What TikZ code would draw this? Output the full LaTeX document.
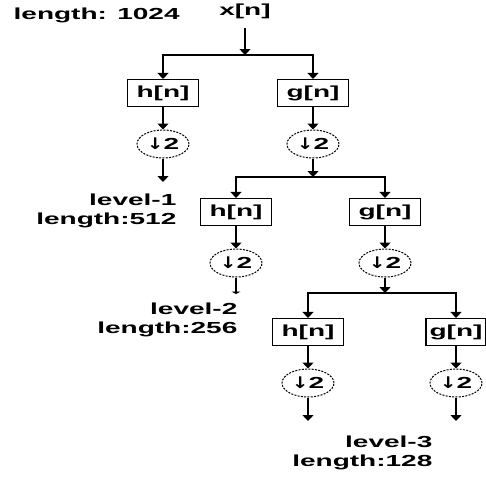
\documentclass[tikz,border=0pt]{standalone}
\usepackage{fontspec}
\setmainfont{Liberation Sans}[FakeStretch=1.75]
\newfontfamily\arrowfont{DejaVu Sans}[FakeStretch=1.25]
\usetikzlibrary{arrows.meta,shapes.geometric,positioning}

\newcommand{\downtwo}{{\arrowfont\bfseries ↓}2}

\begin{document}
\begin{tikzpicture} [>={Triangle[width=11pt,length=6pt]},line width=1.3pt,
    font=\bfseries\fontsize{16}{19}\selectfont]
    \tikzset {
      node distance=51pt, on grid,
      filterbox/.style={rectangle,draw,line width=1.1pt,minimum width=71pt,minimum height=27pt,inner sep=0pt},
      downsamp/.style={ellipse,draw,line width=1pt,dash pattern=on 2pt off 1.3pt,minimum width=52pt,minimum height=28pt,inner sep=0pt},
      lbl/.style={align=right,anchor=north east,inner sep=0pt}
    }
    \useasboundingbox (0,0) rectangle (486pt,-477pt);
    % input
    \node [anchor=north west, inner sep=0pt] (len) at (13pt,-7pt) {length: 1024};
    \node [inner ysep=9pt] (xn) at (245pt,-11pt) {x[n]};
    \coordinate (j0) at (245pt,-55pt);
    % level 1
    \node [filterbox] (h1) at (163pt,-93pt) {h[n]};
    \node [filterbox, right=150pt of h1] (g1) {g[n]};
    \node [downsamp, below=of h1] (d1h) {\downtwo};
    \node [downsamp, below=of g1] (d1g) {\downtwo};
    \coordinate [below=38pt of d1h] (e1);
    \coordinate [below=33pt of d1g] (j1);
    % level 2
    \node [filterbox, below left=119pt and 77pt of g1] (h2) {h[n]};
    \node [filterbox, right=149pt of h2] (g2) {g[n]};
    \node [downsamp, below=of h2] (d2h) {\downtwo};
    \node [downsamp, below=of g2] (d2g) {\downtwo};
    \coordinate [below=31pt of d2h] (e2);
    \coordinate [below=30pt of d2g] (j2);
    % level 3
    \node [filterbox, below left=120pt and 77pt of g2] (h3) {h[n]};
    \node [filterbox, right=148pt of h3, minimum width=60pt] (g3) {g[n]};
    \node [downsamp, below=of h3] (d3h) {\downtwo};
    \node [downsamp, below=of g3] (d3g) {\downtwo};
    \coordinate [below=38pt of d3h] (e3h);
    \coordinate [below=38pt of d3g] (e3g);

    \draw [->] (xn) -- (j0);
    \draw [->] (j0) -| (h1);
    \draw [->] (j0) -| (g1);
    \draw [->] (h1) -- (d1h);
    \draw [->] (g1) -- (d1g);
    \draw [->] (d1h) -- (e1);
    \draw [->] (d1g) -- (j1);
    \draw [->] (j1) -| (h2);
    \draw [->] (j1) -| (g2);
    \draw [->] (h2) -- (d2h);
    \draw [->] (g2) -- (d2g);
    \draw [-{Triangle[width=9pt,length=2.5pt]}] (d2h) -- (e2);
    \draw [->] (d2g) -- (j2);
    \draw [->] (j2) -| (h3);
    \draw [->] (j2) -| (g3);
    \draw [->] (h3) -- (d3h);
    \draw [->] (g3) -- (d3g);
    \draw [->] (d3h) -- (e3h);
    \draw [->] (d3g) -- (e3g);

    \node [lbl] (l1) at ([xshift=14pt,yshift=-11pt]e1) {level-1\\length:512};
    \node [lbl] (l2) at ([xshift=2pt,yshift=-8pt]e2) {level-2\\length:256};
    \node [lbl] (l3) at ([xshift=-23pt,yshift=-14pt]e3g) {level-3\\length:128};
  \end{tikzpicture}
\end{document}
